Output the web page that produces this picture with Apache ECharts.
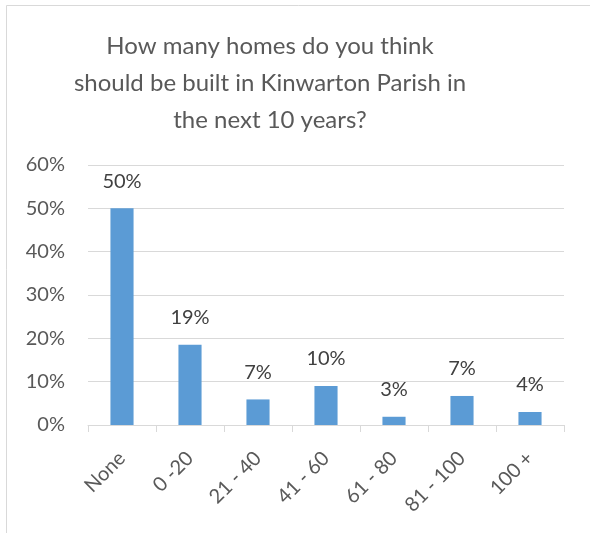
<!DOCTYPE html>
<html>
<head>
<meta charset="utf-8">
<script src="https://cdn.jsdelivr.net/npm/echarts@6/dist/echarts.min.js"></script>
<style>
html,body{margin:0;padding:0;background:#fff;}
#chart{width:590px;height:533px;}
</style>
</head>
<body>
<div id="chart"></div>
<script>
const titleText = "How many homes do you think\nshould be built in Kinwarton Parish in\nthe next 10 years?";
const categories = ["None", "0 -20", "21 - 40", "41 - 60", "61 - 80", "81 - 100", "100 +"];
const values = [50.0, 18.5, 5.9, 9.0, 1.9, 6.7, 3.0];
const valueLabels = ["50%", "19%", "7%", "10%", "3%", "7%", "4%"];
const yTicks = [0, 10, 20, 30, 40, 50, 60];

const FONT = "Lato";
const chart = echarts.init(document.getElementById('chart'), null, {renderer: 'canvas'});
chart.setOption({
  animation: false,
  backgroundColor: '#ffffff',
  graphic: [{
    type: 'rect',
    shape: {x: 6.5, y: 5.5, width: 800, height: 800},
    style: {fill: 'none', stroke: '#d9d9d9', lineWidth: 1},
    silent: true
  }],
  title: {
    text: titleText,
    left: 265,
    textAlign: 'center',
    top: 23,
    textStyle: {fontFamily: FONT, fontSize: 24, fontWeight: 'normal', color: '#595959', lineHeight: 37}
  },
  grid: {left: 88, right: 26, top: 165, bottom: 108, containLabel: false},
  xAxis: {
    type: 'category',
    data: categories,
    axisLine: {lineStyle: {color: '#d9d9d9', width: 1}},
    axisTick: {show: true, length: 7, lineStyle: {color: '#d9d9d9'}},
    axisLabel: {rotate: 45, interval: 0, margin: 30, fontFamily: FONT, fontSize: 20, color: '#595959'}
  },
  yAxis: {
    type: 'value',
    min: yTicks[0],
    max: yTicks[yTicks.length - 1],
    interval: 10,
    axisLine: {show: false},
    axisTick: {show: false},
    splitLine: {lineStyle: {color: '#d9d9d9', width: 1}},
    axisLabel: {margin: 23, fontFamily: FONT, fontSize: 20, color: '#595959', formatter: v => v + '%'}
  },
  series: [{
    type: 'bar',
    data: values,
    barWidth: '34%',
    itemStyle: {color: '#5b9bd5'},
    label: {
      show: true,
      position: 'top',
      distance: 17,
      fontFamily: FONT,
      fontSize: 20,
      color: '#404040',
      formatter: p => valueLabels[p.dataIndex]
    }
  }]
});
</script>
</body>
</html>
